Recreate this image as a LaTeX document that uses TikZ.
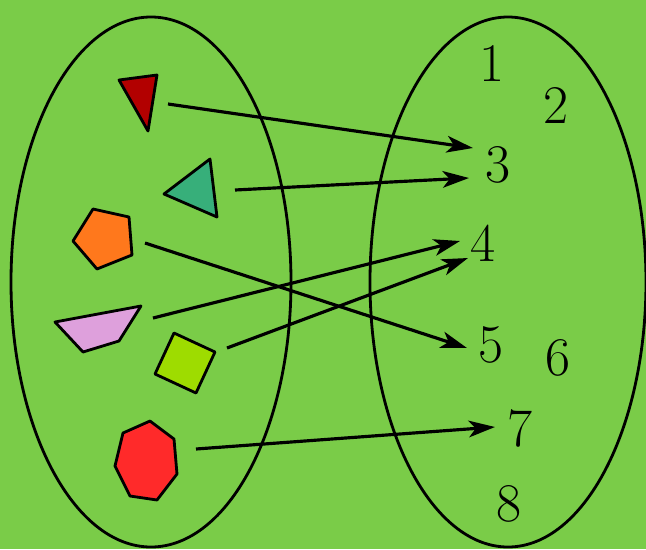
\documentclass[tikz,border=0pt]{standalone}
\usetikzlibrary{arrows.meta}
\definecolor{bgGreen}{RGB}{122,204,72}
\definecolor{darkRed}{RGB}{178,0,0}
\definecolor{tealish}{RGB}{55,175,122}
\definecolor{orangeish}{RGB}{255,120,28}
\definecolor{pinkish}{RGB}{222,160,220}
\definecolor{limeish}{RGB}{158,220,0}
\definecolor{brightRed}{RGB}{255,42,42}

\begin{document}
\begin{tikzpicture}[x=0.02cm,y=-0.02cm,
    piece/.style={draw=black, line width=1.6pt, line join=round},
    map/.style={line width=1.8pt, -{Stealth[length=15pt,width=9.5pt,inset=4pt]}},
    num/.style={font=\fontsize{31}{31}\selectfont, inner sep=0pt}]
    \fill[bgGreen] (0,0) rectangle (646,549);
    \useasboundingbox (0,0) rectangle (646,549);

    % the two sets
    \draw[line width=1.6pt] (151,282) ellipse [x radius=140, y radius=265];
    \draw[line width=1.6pt] (508,282) ellipse [x radius=138, y radius=265];

    % shapes in the domain
    \filldraw[piece, fill=darkRed] (119,80) -- (157,75) -- (148,131) -- cycle;
    \filldraw[piece, fill=tealish] (164,194) -- (210,159) -- (217,217) -- cycle;
    \filldraw[piece, fill=orangeish] (93,209) -- (129,217) -- (132,255) -- (97,269) -- (73,241) -- cycle;
    \filldraw[piece, fill=pinkish] (55,322) -- (141,306) -- (119,341) -- (83,352) -- cycle;
    \filldraw[piece, fill=limeish] (174,333) -- (215,352) -- (196,393) -- (155,374) -- cycle;
    \filldraw[piece, fill=brightRed] (150,421) -- (174,439) -- (177,474) -- (157,500)
      -- (130,496) -- (115,466) -- (123,433) -- cycle;

    % numbers in the codomain
    \node[num] (n1) at (492,63) {1};
    \node[num] (n2) at (556,105) {2};
    \node[num] (n3) at (498,165) {3};
    \node[num] (n4) at (483,243) {4};
    \node[num] (n5) at (491,345) {5};
    \node[num] (n6) at (558,358) {6};
    \node[num] (n7) at (520,428) {7};
    \node[num] (n8) at (509,504) {8};

    % arrow ends
    \coordinate (sRed) at (168,104);
    \coordinate (sTeal) at (235,190);
    \coordinate (sOrange) at (145,243);
    \coordinate (sPink) at (153,318);
    \coordinate (sLime) at (227,348);
    \coordinate (sHept) at (196,449);
    \coordinate (tRed) at (473,148);
    \coordinate (tTeal) at (469,178);
    \coordinate (tOrange) at (467,348);
    \coordinate (tPink) at (460,241);
    \coordinate (tLime) at (468,258);
    \coordinate (tHept) at (495,427);

    % the mapping
    \draw[map] (sRed) -- (tRed);
    \draw[map] (sTeal) -- (tTeal);
    \draw[map] (sOrange) -- (tOrange);
    \draw[map] (sPink) -- (tPink);
    \draw[map] (sLime) -- (tLime);
    \draw[map] (sHept) -- (tHept);
\end{tikzpicture}
\end{document}
